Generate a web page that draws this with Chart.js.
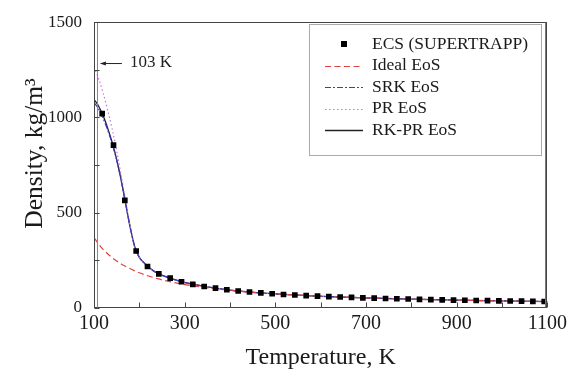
<!DOCTYPE html>
<html><head><meta charset="utf-8">
<script src="https://cdn.jsdelivr.net/npm/chart.js@4/dist/chart.umd.min.js"></script>
<style>html,body{margin:0;padding:0;background:#fff;} canvas{display:block;}</style>
</head><body>
<canvas id="c" width="571" height="378"></canvas>
<script>
// ---- data ----
const ecsT   = [118,143,168,193,218,243,268,293,318,343,368,393,418,443,468,493,518,543,568,593,
                618,643,668,693,718,743,768,793,818,843,868,893,918,943,968,993,1018,1043,1068,1093];
const ecsRho = [1020,855,565,299,218,179,157,138,124,113,104,96,89,84,79,75,71,68,65,62,
                60,57.5,55.5,53.5,51.5,50,48.5,47,45.5,44,43,41.5,40.5,39.5,38.5,37.5,36.5,36,35,34];
const curveT   = [100,110,120,130,140,150,160,170,180,190,200,210,220,240,260,280,300,350,400,450,500,600,700,800,900,1000,1100];
const idealRho = [370,336,308,285,264,247,231,218,206,195,185,176,168,154,142,132,123,106,92.5,82,74,62,53,46,41,37,33.6];
const srkRho   = [1080,1045,995,935,862,775,668,545,422,321,266,238,215,182,163,147,134,111,94,82.5,74,61.5,53,46.5,41.3,37.2,33.8];
const prRho    = [1265,1205,1130,1040,940,825,695,560,428,323,266,238,215,182,163,147,134,111,94,82.5,74,61.5,53,46.5,41.3,37.2,33.8];
const rkprRho  = [1095,1060,1010,945,870,780,670,545,420,320,266,238,215,182,163,147,134,111,94,82.5,74,61.5,53,46.5,41.3,37.2,33.8];
const seriesNames = ['ECS (SUPERTRAPP)','Ideal EoS','SRK EoS','PR EoS','RK-PR EoS'];
const xTickLabels = [100,300,500,700,900,1100];
const yTickLabels = [0,500,1000,1500];
const xTitle = 'Temperature, K';
const yTitle = 'Density, kg/m³';
const annotationLabel = '103 K';
const annotationAt = [113, 1283];

const FONT = "'Liberation Serif','Times New Roman',serif";
const pts = (xs, ys) => xs.map((x, i) => ({x, y: ys[i]}));

const framePlugin = {
  id: 'frame',
  afterDraw(chart) {
    const {ctx, chartArea: a, scales: {x, y}} = chart;
    ctx.save();
    // frame
    ctx.strokeStyle = '#444';
    ctx.lineWidth = 1;
    const L = Math.round(a.left) + 0.5, R = Math.round(a.right) - 0.5, T = Math.round(a.top) + 0.5, B = Math.round(a.bottom) - 0.5;
    ctx.strokeRect(L, T, R - L, B - T);
    ctx.beginPath(); ctx.moveTo(R - 1, T); ctx.lineTo(R - 1, B); ctx.strokeStyle = '#777'; ctx.stroke();
    ctx.beginPath(); ctx.moveTo(L + 3, T); ctx.lineTo(L + 3, B); ctx.strokeStyle = '#888'; ctx.stroke();
    ctx.strokeStyle = '#444';
    // inward ticks
    ctx.beginPath();
    for (let v = 100; v <= 1100; v += 100) {
      const px = Math.round(x.getPixelForValue(v)) + 0.5;
      ctx.moveTo(px, B); ctx.lineTo(px, B - 5);
    }
    for (let v = 0; v <= 1500; v += 250) {
      const py = Math.round(y.getPixelForValue(v)) + 0.5;
      ctx.moveTo(L, py); ctx.lineTo(L + 5, py);
    }
    ctx.stroke();
    // y axis title
    ctx.save();
    ctx.translate(35, 153.5); ctx.rotate(-Math.PI / 2);
    ctx.font = '25.5px ' + FONT; ctx.fillStyle = '#1a1a1a';
    ctx.textAlign = 'center'; ctx.textBaseline = 'middle';
    ctx.fillText(yTitle, 0, 0);
    ctx.restore();
    // annotation arrow
    const ax = x.getPixelForValue(annotationAt[0]), ay = y.getPixelForValue(annotationAt[1]);
    ctx.beginPath(); ctx.moveTo(ax + 1, ay); ctx.lineTo(ax + 22, ay); ctx.strokeStyle = '#222'; ctx.lineWidth = 1; ctx.stroke();
    ctx.beginPath(); ctx.moveTo(ax, ay); ctx.lineTo(ax + 6, ay - 2); ctx.lineTo(ax + 6, ay + 2); ctx.closePath();
    ctx.fillStyle = '#222'; ctx.fill();
    ctx.font = '17px ' + FONT; ctx.textBaseline = 'middle'; ctx.textAlign = 'left';
    ctx.fillText(annotationLabel, ax + 30, ay - 1);
    // legend
    const lx = 309.5, ly = 24.5, lw = 232, lh = 131;
    ctx.strokeStyle = '#aaa'; ctx.strokeRect(lx, ly, lw, lh);
    const ds = chart.data.datasets;
    for (let i = 0; i < ds.length; i++) {
      const cy = 44 + 21.5 * i;
      const d = ds[i];
      if (i === 0) {
        ctx.fillStyle = '#000'; ctx.fillRect(341, cy - 3, 6, 6);
      } else {
        ctx.beginPath(); ctx.setLineDash(d.borderDash || []);
        ctx.strokeStyle = d.borderColor; ctx.lineWidth = d.borderWidth;
        ctx.moveTo(325, Math.round(cy) + 0.5); ctx.lineTo(363, Math.round(cy) + 0.5); ctx.stroke();
        ctx.setLineDash([]);
      }
      ctx.fillStyle = '#1a1a1a'; ctx.font = '17.5px ' + FONT;
      ctx.fillText(d.label, 372, cy);
    }
    ctx.restore();
  }
};

new Chart(document.getElementById('c'), {
  type: 'scatter',
  data: {
    datasets: [
      {label: seriesNames[0], data: pts(ecsT, ecsRho), pointStyle: 'rect', pointRadius: 4, pointBackgroundColor: '#000', pointBorderWidth: 0, showLine: false},
      {label: seriesNames[1], data: pts(curveT, idealRho), showLine: true, pointRadius: 0, borderColor: '#e0413f', borderWidth: 1.2, borderDash: [6, 3.5], cubicInterpolationMode: 'monotone'},
      {label: seriesNames[2], data: pts(curveT, srkRho), showLine: true, pointRadius: 0, borderColor: '#3a3ad0', borderWidth: 1.2, borderDash: [6, 2, 2, 2], cubicInterpolationMode: 'monotone'},
      {label: seriesNames[3], data: pts(curveT, prRho), showLine: true, pointRadius: 0, borderColor: '#d070e0', borderWidth: 1.2, borderDash: [1.5, 2.5], cubicInterpolationMode: 'monotone'},
      {label: seriesNames[4], data: pts(curveT, rkprRho), showLine: true, pointRadius: 0, borderColor: '#222', borderWidth: 1.3, cubicInterpolationMode: 'monotone'}
    ]
  },
  options: {
    responsive: false, animation: false,
    layout: {padding: {top: 18, right: 21, left: 0, bottom: 0}},
    plugins: {legend: {display: false}, tooltip: {enabled: false}},
    scales: {
      x: {
        type: 'linear', min: 100, max: 1100,
        afterFit(s) { s.height = 70; },
        grid: {display: false, drawTicks: false}, border: {display: false},
        ticks: {stepSize: 100, autoSkip: false, maxRotation: 0, padding: 4, color: '#1a1a1a',
                font: {family: FONT, size: 20},
                callback: v => xTickLabels.includes(v) ? String(v) : ''},
        title: {display: true, text: xTitle, color: '#1a1a1a', font: {family: FONT, size: 24}, padding: {top: 4, bottom: 6}}
      },
      y: {
        min: 0, max: 1500,
        afterFit(s) { s.width = 94; },
        grid: {display: false, drawTicks: false}, border: {display: false},
        ticks: {stepSize: 250, autoSkip: false, padding: 12, color: '#1a1a1a',
                font: {family: FONT, size: 17},
                callback: v => yTickLabels.includes(v) ? String(v) : ''},
        title: {display: false, text: yTitle}
      }
    }
  },
  plugins: [framePlugin]
});
</script>
</body></html>
